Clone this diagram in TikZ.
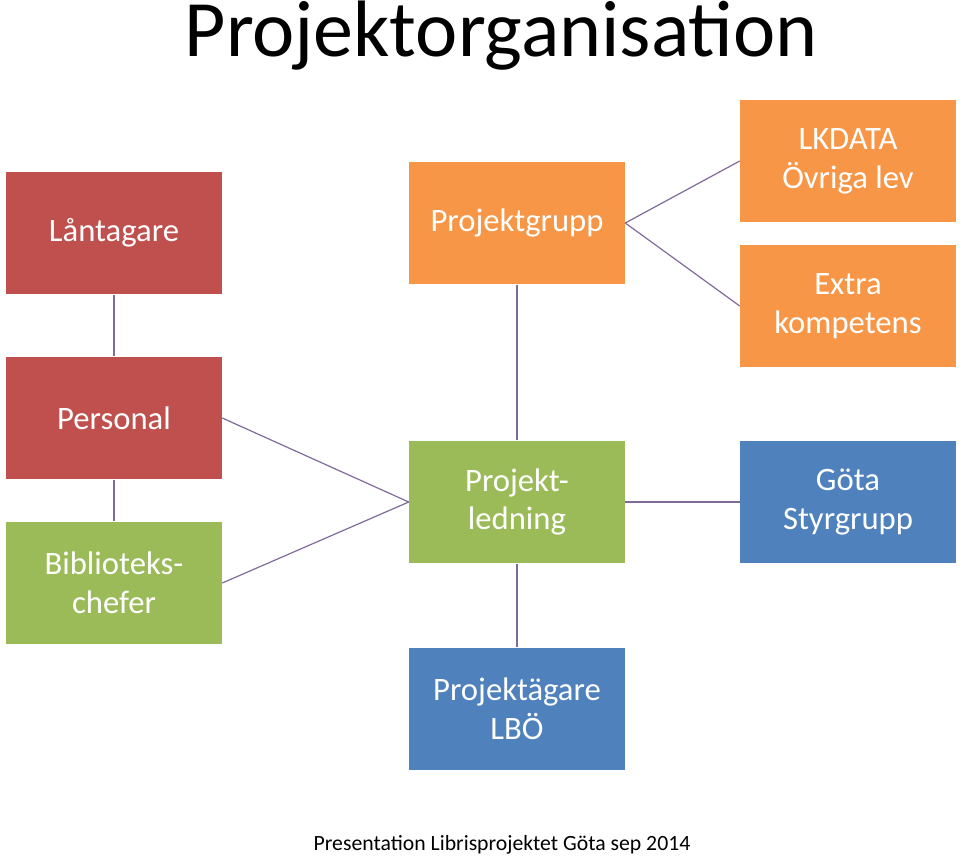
\documentclass[tikz,border=0pt]{standalone}
\usepackage{fontspec}
\setmainfont{Carlito}
\definecolor{redbox}{HTML}{C0504D}
\definecolor{orangebox}{HTML}{F79646}
\definecolor{greenbox}{HTML}{9BBB59}
\definecolor{bluebox}{HTML}{4F81BD}
\definecolor{linkcol}{HTML}{7F6A9A}
\tikzset{
  orgbox/.style={rectangle, minimum width=162pt, minimum height=92pt, text=white,
    align=center, font=\fontsize{24.5}{29}\selectfont, inner sep=2pt},
  link/.style={draw=linkcol, line width=0.9pt}
}
\begin{document}
\begin{tikzpicture}[x=0.75pt, y=-0.75pt]
  \useasboundingbox (0,0) rectangle (960,858);
  % title
  \node (title) at (501,36) {\fontsize{60}{64}\selectfont Projektorganisation};
  % left column
  \node[orgbox, fill=redbox] (lan) at (114,233) {Låntagare};
  \node[orgbox, fill=redbox] (pers) at (114,418) {Personal};
  \node[orgbox, fill=greenbox] (bib) at (114,583) {Biblioteks-\\chefer};
  % middle column
  \node[orgbox, fill=orangebox] (grupp) at (517,223) {Projektgrupp};
  \node[orgbox, fill=greenbox] (led) at (517,502) {Projekt-\\ledning};
  \node[orgbox, fill=bluebox] (agare) at (517,709) {Projektägare\\LBÖ};
  % right column
  \node[orgbox, fill=orangebox] (lk) at (848,161) {LKDATA\\Övriga lev};
  \node[orgbox, fill=orangebox] (extra) at (848,306) {Extra\\kompetens};
  \node[orgbox, fill=bluebox] (gota) at (848,502) {Göta\\Styrgrupp};
  % connectors
  \draw[link] (lan.south) -- (pers.north);
  \draw[link] (pers.south) -- (bib.north);
  \draw[link] (pers.east) -- (led.west);
  \draw[link] (bib.east) -- (led.west);
  \draw[link] (grupp.south) -- (led.north);
  \draw[link] (led.south) -- (agare.north);
  \draw[link] (grupp.east) -- (lk.west);
  \draw[link] (grupp.east) -- (extra.west);
  \draw[link] (led.east) -- (gota.west);
  % footer
  \node (foot) at (502,845) {\fontsize{16.3}{18}\selectfont Presentation Librisprojektet Göta sep 2014};
\end{tikzpicture}
\end{document}
